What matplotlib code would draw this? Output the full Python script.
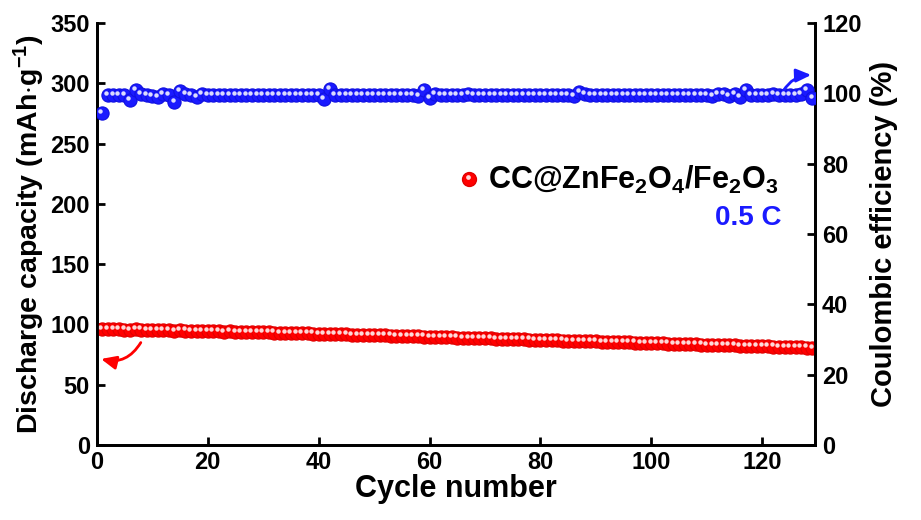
import matplotlib
matplotlib.use('Agg')
import matplotlib.pyplot as plt
import matplotlib.transforms as mtransforms
import numpy as np

plt.rcParams['font.family'] = ['Liberation Sans', 'DejaVu Sans']
plt.rcParams['mathtext.fontset'] = 'custom'
plt.rcParams['mathtext.rm'] = 'Liberation Sans:bold'
plt.rcParams['mathtext.it'] = 'Liberation Sans:bold'
plt.rcParams['mathtext.bf'] = 'Liberation Sans:bold'

# Data
capacity = [96.5, 96.3, 96.2, 96.0, 95.8, 95.4, 96.0, 95.8, 95.7, 95.6,
            95.5, 95.4, 95.3, 94.6, 95.1, 95.0, 94.9, 94.8, 94.7, 94.6,
            94.5, 94.2, 93.9, 94.2, 94.1, 94.0, 93.9, 93.8, 93.6, 93.5,
            93.4, 93.3, 93.1, 93.0, 92.9, 92.8, 92.7, 92.6, 92.5, 92.4,
            92.2, 92.1, 92.0, 91.9, 91.8, 91.6, 91.5, 91.4, 91.3, 91.1,
            91.0, 90.9, 90.8, 90.6, 90.5, 90.4, 90.3, 90.1, 90.0, 89.9,
            89.8, 89.6, 89.5, 89.4, 89.2, 89.1, 89.0, 88.9, 88.7, 88.6,
            88.5, 88.3, 88.2, 88.1, 87.9, 87.8, 87.7, 87.5, 87.4, 87.3,
            87.1, 87.0, 86.9, 86.7, 86.6, 86.3, 86.4, 86.2, 86.1, 86.0,
            85.8, 85.7, 85.6, 85.4, 85.3, 85.2, 85.0, 84.9, 84.8, 84.6,
            84.5, 84.4, 84.2, 84.1, 84.0, 83.8, 83.7, 83.6, 83.4, 83.3,
            83.2, 83.0, 82.9, 82.8, 82.6, 82.5, 82.4, 82.2, 82.1, 82.0,
            81.8, 81.7, 81.6, 81.4, 81.3, 81.2, 81.0, 80.9, 80.8]

efficiency = [94.5, 99.6, 99.6, 99.6, 99.6, 98.2, 101.0, 99.8, 99.5, 99.3,
              99.0, 99.9, 99.4, 97.6, 100.6, 99.9, 99.5, 99.0, 99.8, 99.4,
              99.5, 99.5, 99.6, 99.5, 99.5, 99.6, 99.5, 99.6, 99.5, 99.6,
              99.5, 99.6, 99.5, 99.5, 99.6, 99.5, 99.6, 99.5, 99.5, 99.6,
              98.4, 101.2, 99.6, 99.5, 99.6, 99.5, 99.6, 99.5, 99.6, 99.5,
              99.6, 99.5, 99.5, 99.6, 99.5, 99.6, 99.5, 99.3, 100.9, 98.6,
              99.7, 99.5, 99.6, 99.5, 99.6, 99.5, 99.8, 99.5, 99.6, 99.5,
              99.6, 99.5, 99.6, 99.5, 99.6, 99.5, 99.6, 99.5, 99.6, 99.5,
              99.6, 99.5, 99.6, 99.5, 99.4, 99.1, 100.3, 99.8, 99.5, 99.6,
              99.5, 99.6, 99.5, 99.6, 99.5, 99.6, 99.5, 99.6, 99.5, 99.6,
              99.5, 99.6, 99.5, 99.6, 99.5, 99.6, 99.5, 99.6, 99.5, 99.6,
              99.3, 99.7, 99.9, 99.1, 99.7, 98.8, 101.0, 99.5, 99.6, 99.5,
              99.6, 99.7, 99.5, 99.6, 99.5, 99.4, 99.8, 100.8, 98.7]

cycles = np.arange(1, len(capacity) + 1)

red = '#ff0000'
blue = '#1a1aff'

fig = plt.figure(figsize=(9.21, 5.2), dpi=100)
ax = fig.add_axes([0.105, 0.144, 0.78, 0.812])
ax2 = ax.twinx()

# little white highlight to look like the shaded spheres
hl = mtransforms.offset_copy(ax.transData, fig=fig, x=-1.3, y=1.5, units='points')
hl2 = mtransforms.offset_copy(ax2.transData, fig=fig, x=-1.3, y=1.5, units='points')

ax.plot(cycles, capacity, 'o', ms=9.5, mfc=red, mec='#e00000', mew=0.8, zorder=3)
ax.plot(cycles, capacity, 'o', ms=3.2, mfc='white', mec='none', alpha=0.85,
        transform=hl, zorder=4)
ax2.plot(cycles, efficiency, 'o', ms=9.5, mfc=blue, mec='#1010e0', mew=0.8, zorder=3)
ax2.plot(cycles, efficiency, 'o', ms=3.2, mfc='white', mec='none', alpha=0.85,
         transform=hl2, zorder=4)

ax.set_xlim(0, 129.5)
ax.set_ylim(0, 350)
ax2.set_ylim(0, 120)
ax.set_xticks(np.arange(0, 121, 20))
ax.set_yticks(np.arange(0, 351, 50))
ax2.set_yticks(np.arange(0, 121, 20))

for a in (ax, ax2):
    a.tick_params(direction='in', length=6, width=2, labelsize=17, pad=5)
    for lab in a.get_xticklabels() + a.get_yticklabels():
        lab.set_fontweight('bold')
    for s in a.spines.values():
        s.set_linewidth(2)
    a.spines['top'].set_visible(False)
ax.tick_params(axis='x', pad=4)

ax.set_xlabel('Cycle number', fontsize=22, fontweight='bold', labelpad=0)
ax.set_ylabel('Discharge capacity (mAh$\\cdot$g$^{-1}$)', fontsize=20.5,
              fontweight='bold', labelpad=2)
ax2.set_ylabel('Coulombic efficiency (%)', fontsize=21, fontweight='bold', labelpad=6)

# legend-like label
ax2.plot([67.2], [75.5], 'o', ms=10, mfc=red, mec='#e00000', zorder=3)
ax2.plot([67.2], [75.5], 'o', ms=3.4, mfc='white', mec='none', alpha=0.85,
         transform=hl2, zorder=4)
ax2.text(70.5, 75.5, 'CC@ZnFe$_2$O$_4$/Fe$_2$O$_3$', fontsize=22,
         fontweight='bold', va='center', ha='left')
ax2.text(123.5, 64.5, '0.5 C', fontsize=20, fontweight='bold', color=blue,
         va='center', ha='right')

# arrows pointing to the axes
ax.annotate('', xy=(0.3, 72), xytext=(8.2, 87),
            arrowprops=dict(arrowstyle='-|>,head_length=0.9,head_width=0.4',
                            color=red, lw=2, connectionstyle='arc3,rad=-0.4'))
ax2.annotate('', xy=(129.3, 105.2), xytext=(123.5, 100),
             arrowprops=dict(arrowstyle='-|>,head_length=0.9,head_width=0.4',
                             color=blue, lw=2, connectionstyle='arc3,rad=-0.3'))

fig.savefig('out.png', dpi=100)
